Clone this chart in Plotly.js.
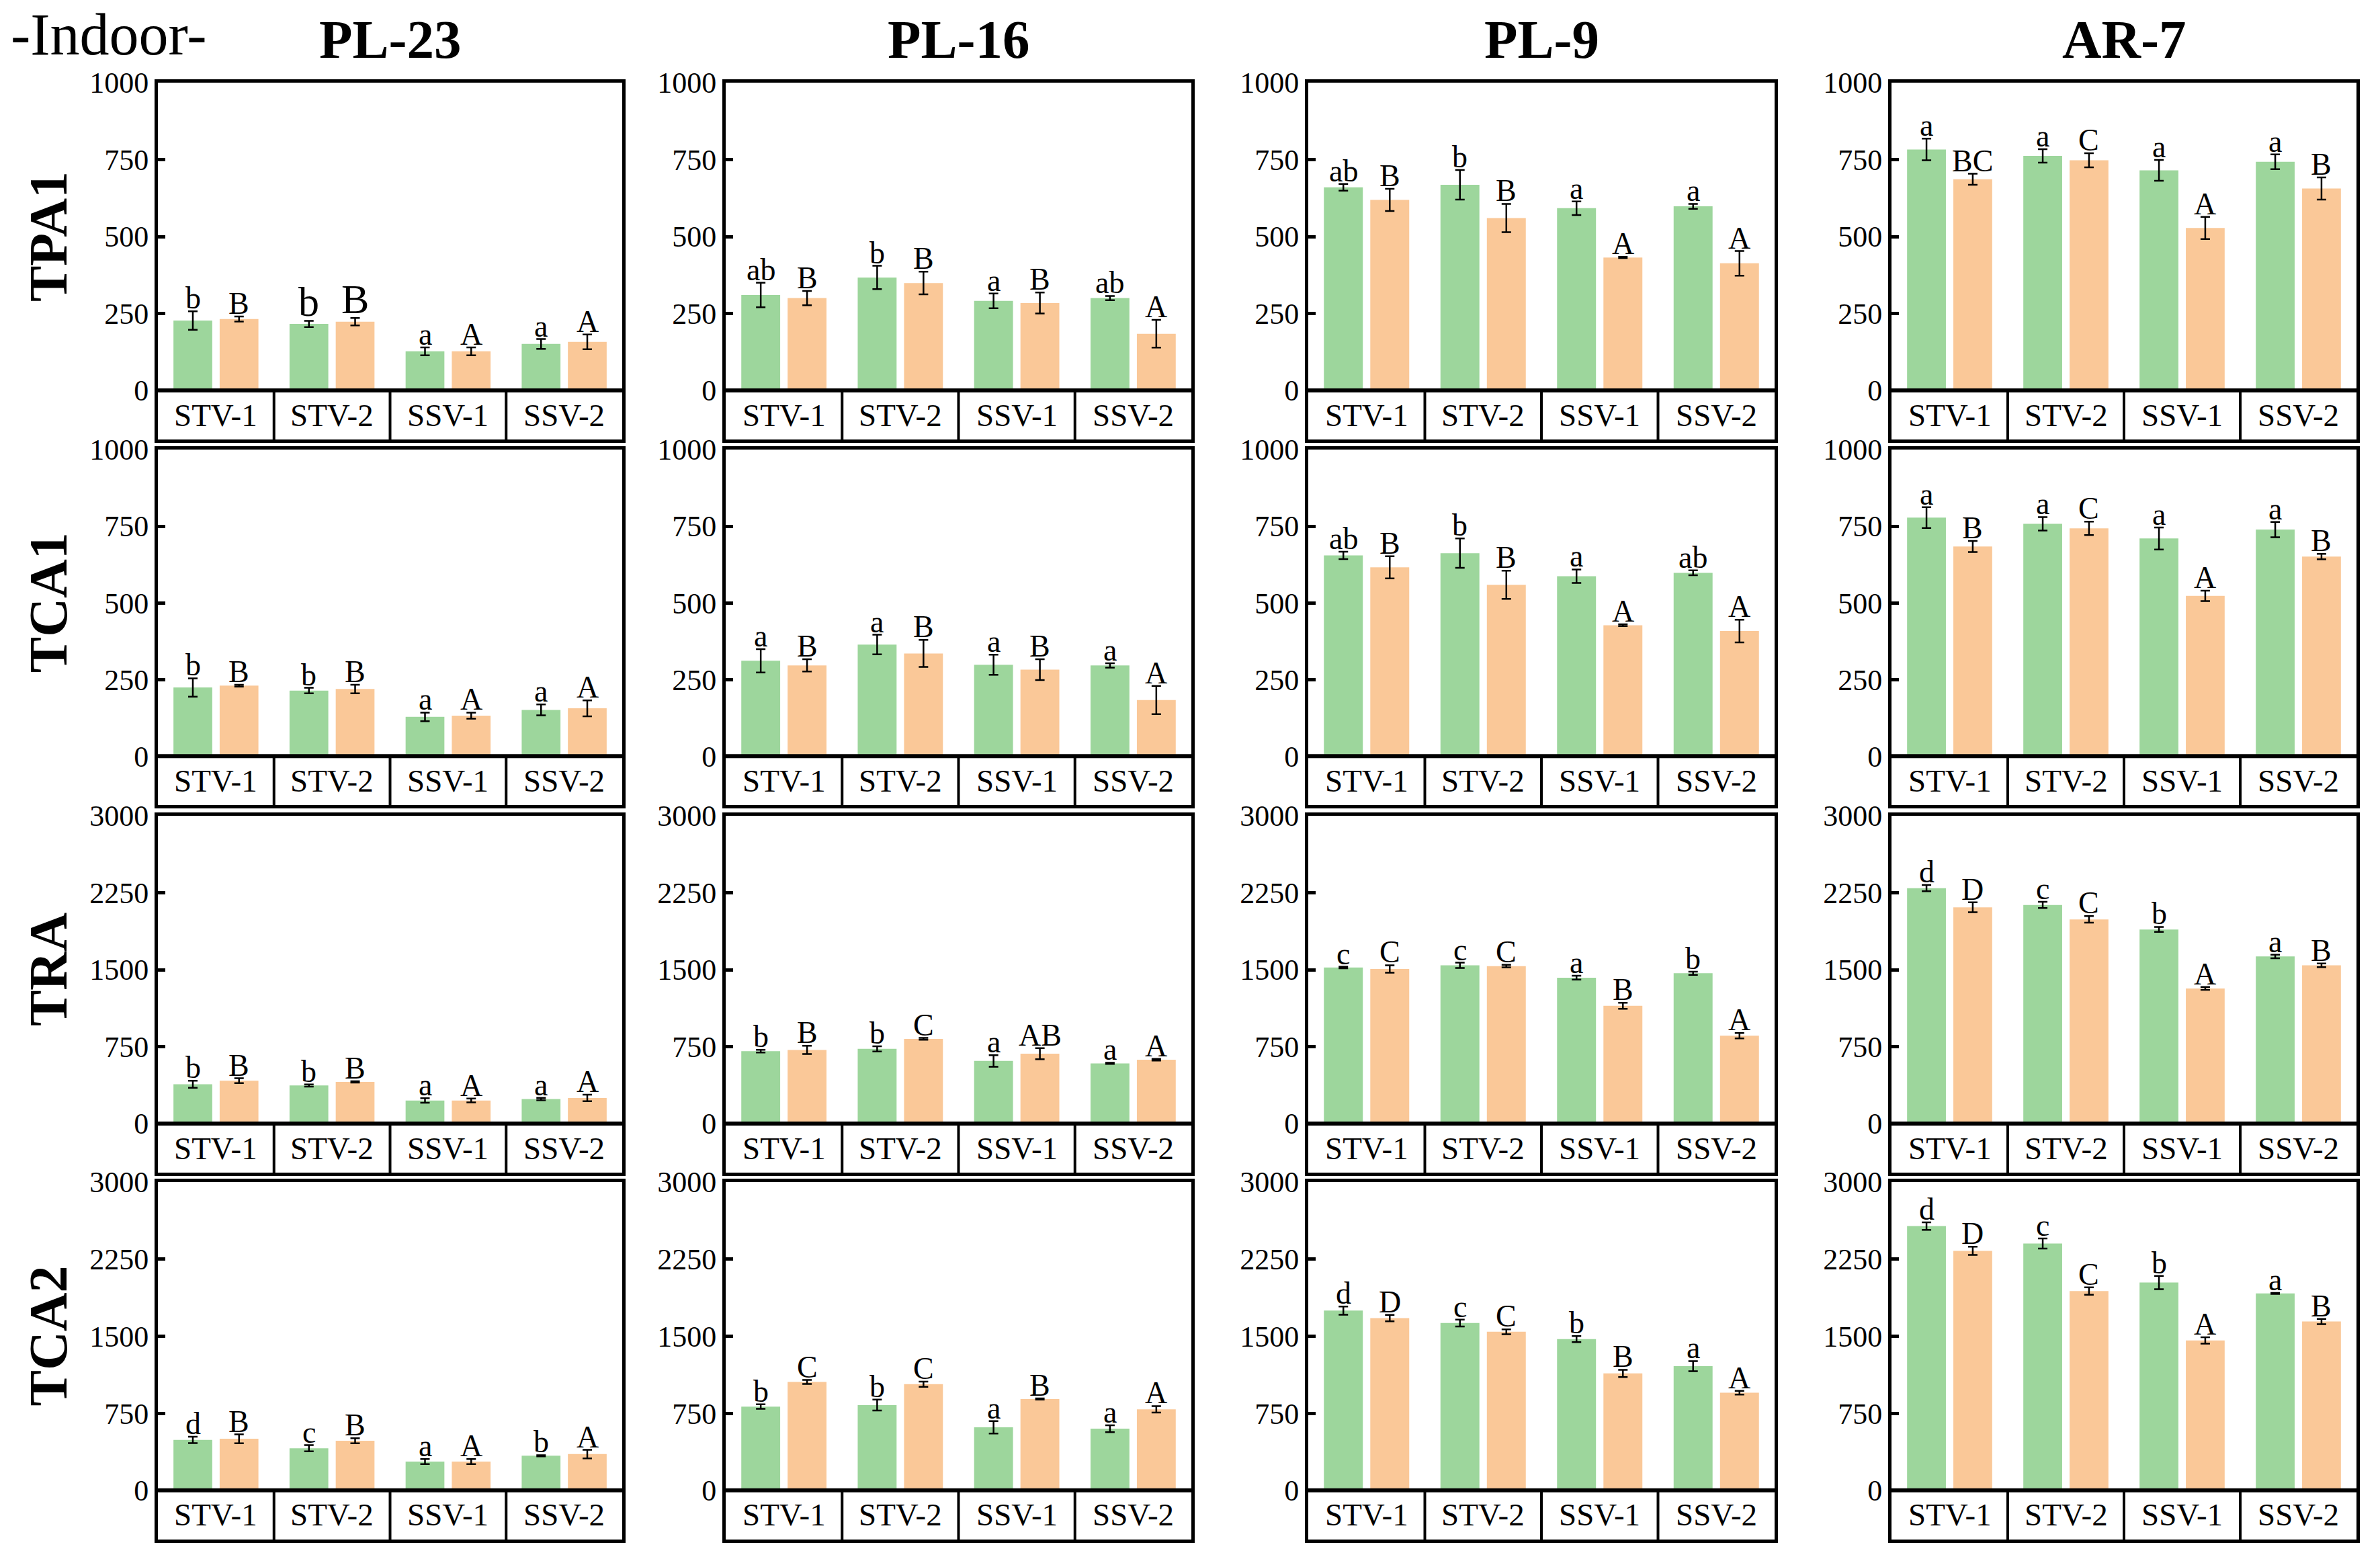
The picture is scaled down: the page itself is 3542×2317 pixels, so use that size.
<!DOCTYPE html>
<html><head><meta charset="utf-8">
<script src="https://cdn.plot.ly/plotly-3.0.1.min.js"></script>
<style>html,body{margin:0;padding:0;background:#fff}#chart{width:3542px;height:2317px}</style>
</head><body><div id="chart"></div>
<script>
// ---------- data ----------
const categories = ['STV-1', 'STV-2', 'SSV-1', 'SSV-2'];
const cultivars = ['PL-23', 'PL-16', 'PL-9', 'AR-7'];
const traits = ['TPA1', 'TCA1', 'TRA', 'TCA2'];
const traitMax = [1000, 1000, 3000, 3000];
const traitTicks = [
  [0, 250, 500, 750, 1000],
  [0, 250, 500, 750, 1000],
  [0, 750, 1500, 2250, 3000],
  [0, 750, 1500, 2250, 3000]
];
const groupLabel = '-Indoor-';

// TPA1
const TPA1_PL23_g = [227, 216, 127, 151], TPA1_PL23_gE = [30, 10, 13, 16];
const TPA1_PL23_o = [232, 223, 127, 158], TPA1_PL23_oE = [8, 12, 13, 24];
const TPA1_PL23_gL = ['b', 'b', 'a', 'a'], TPA1_PL23_oL = ['B', 'B', 'A', 'A'];
const TPA1_PL16_g = [310, 367, 291, 300], TPA1_PL16_gE = [40, 38, 24, 7];
const TPA1_PL16_o = [300, 349, 284, 184], TPA1_PL16_oE = [23, 37, 34, 45];
const TPA1_PL16_gL = ['ab', 'b', 'a', 'ab'], TPA1_PL16_oL = ['B', 'B', 'B', 'A'];
const TPA1_PL9_g = [660, 668, 592, 598], TPA1_PL9_gE = [11, 48, 22, 8];
const TPA1_PL9_o = [619, 560, 432, 413], TPA1_PL9_oE = [36, 46, 2, 40];
const TPA1_PL9_gL = ['ab', 'b', 'a', 'a'], TPA1_PL9_oL = ['B', 'B', 'A', 'A'];
const TPA1_AR7_g = [783, 762, 715, 743], TPA1_AR7_gE = [35, 22, 34, 24];
const TPA1_AR7_o = [686, 748, 528, 656], TPA1_AR7_oE = [18, 23, 36, 36];
const TPA1_AR7_gL = ['a', 'a', 'a', 'a'], TPA1_AR7_oL = ['BC', 'C', 'A', 'B'];

// TCA1
const TCA1_PL23_g = [224, 214, 128, 151], TCA1_PL23_gE = [30, 9, 14, 18];
const TCA1_PL23_o = [230, 219, 132, 156], TCA1_PL23_oE = [3, 14, 10, 26];
const TCA1_PL23_gL = ['b', 'b', 'a', 'a'], TCA1_PL23_oL = ['B', 'B', 'A', 'A'];
const TCA1_PL16_g = [311, 364, 298, 296], TCA1_PL16_gE = [38, 32, 33, 7];
const TCA1_PL16_o = [296, 335, 282, 183], TCA1_PL16_oE = [20, 44, 34, 46];
const TCA1_PL16_gL = ['a', 'a', 'a', 'a'], TCA1_PL16_oL = ['B', 'B', 'B', 'A'];
const TCA1_PL9_g = [655, 662, 587, 598], TCA1_PL9_gE = [12, 48, 22, 8];
const TCA1_PL9_o = [616, 559, 427, 408], TCA1_PL9_oE = [36, 46, 3, 37];
const TCA1_PL9_gL = ['ab', 'b', 'a', 'ab'], TCA1_PL9_oL = ['B', 'B', 'A', 'A'];
const TCA1_AR7_g = [778, 758, 710, 739], TCA1_AR7_gE = [34, 22, 36, 25];
const TCA1_AR7_o = [684, 743, 523, 651], TCA1_AR7_oE = [18, 22, 17, 9];
const TCA1_AR7_gL = ['a', 'a', 'a', 'a'], TCA1_AR7_oL = ['B', 'C', 'A', 'B'];

// TRA
const TRA_PL23_g = [383, 371, 225, 239], TRA_PL23_gE = [35, 10, 22, 12];
const TRA_PL23_o = [418, 406, 225, 249], TRA_PL23_oE = [24, 6, 19, 32];
const TRA_PL23_gL = ['b', 'b', 'a', 'a'], TRA_PL23_oL = ['B', 'B', 'A', 'A'];
const TRA_PL16_g = [706, 728, 610, 587], TRA_PL16_gE = [13, 25, 57, 6];
const TRA_PL16_o = [718, 826, 681, 622], TRA_PL16_oE = [40, 9, 54, 8];
const TRA_PL16_gL = ['b', 'b', 'a', 'a'], TRA_PL16_oL = ['B', 'C', 'AB', 'A'];
const TRA_PL9_g = [1521, 1542, 1422, 1465], TRA_PL9_gE = [8, 26, 19, 16];
const TRA_PL9_o = [1507, 1535, 1148, 857], TRA_PL9_oE = [36, 12, 30, 26];
const TRA_PL9_gL = ['c', 'c', 'a', 'b'], TRA_PL9_oL = ['C', 'C', 'B', 'A'];
const TRA_AR7_g = [2295, 2131, 1892, 1629], TRA_AR7_gE = [30, 30, 24, 17];
const TRA_AR7_o = [2108, 1990, 1317, 1542], TRA_AR7_oE = [48, 32, 14, 18];
const TRA_AR7_gL = ['d', 'c', 'b', 'a'], TRA_AR7_oL = ['D', 'C', 'A', 'B'];

// TCA2
const TCA2_PL23_g = [491, 410, 280, 337], TCA2_PL23_gE = [31, 30, 24, 6];
const TCA2_PL23_o = [502, 483, 280, 353], TCA2_PL23_oE = [43, 25, 24, 41];
const TCA2_PL23_gL = ['d', 'c', 'a', 'b'], TCA2_PL23_oL = ['B', 'B', 'A', 'A'];
const TCA2_PL16_g = [815, 830, 614, 600], TCA2_PL16_gE = [22, 53, 60, 33];
const TCA2_PL16_o = [1055, 1033, 889, 789], TCA2_PL16_oE = [19, 25, 5, 31];
const TCA2_PL16_gL = ['b', 'b', 'a', 'a'], TCA2_PL16_oL = ['C', 'C', 'B', 'A'];
const TCA2_PL9_g = [1749, 1628, 1472, 1209], TCA2_PL9_gE = [40, 33, 30, 49];
const TCA2_PL9_o = [1676, 1543, 1138, 950], TCA2_PL9_oE = [31, 24, 35, 18];
const TCA2_PL9_gL = ['d', 'c', 'b', 'a'], TCA2_PL9_oL = ['D', 'C', 'B', 'A'];
const TCA2_AR7_g = [2571, 2401, 2022, 1917], TCA2_AR7_gE = [37, 49, 65, 5];
const TCA2_AR7_o = [2330, 1939, 1458, 1643], TCA2_AR7_oE = [40, 36, 31, 25];
const TCA2_AR7_gL = ['d', 'c', 'b', 'a'], TCA2_AR7_oL = ['D', 'C', 'A', 'B'];

// table built from the arrays above: [trait][cultivar]
const panels = [
  [[TPA1_PL23_g,TPA1_PL23_gE,TPA1_PL23_o,TPA1_PL23_oE,TPA1_PL23_gL,TPA1_PL23_oL],
   [TPA1_PL16_g,TPA1_PL16_gE,TPA1_PL16_o,TPA1_PL16_oE,TPA1_PL16_gL,TPA1_PL16_oL],
   [TPA1_PL9_g,TPA1_PL9_gE,TPA1_PL9_o,TPA1_PL9_oE,TPA1_PL9_gL,TPA1_PL9_oL],
   [TPA1_AR7_g,TPA1_AR7_gE,TPA1_AR7_o,TPA1_AR7_oE,TPA1_AR7_gL,TPA1_AR7_oL]],
  [[TCA1_PL23_g,TCA1_PL23_gE,TCA1_PL23_o,TCA1_PL23_oE,TCA1_PL23_gL,TCA1_PL23_oL],
   [TCA1_PL16_g,TCA1_PL16_gE,TCA1_PL16_o,TCA1_PL16_oE,TCA1_PL16_gL,TCA1_PL16_oL],
   [TCA1_PL9_g,TCA1_PL9_gE,TCA1_PL9_o,TCA1_PL9_oE,TCA1_PL9_gL,TCA1_PL9_oL],
   [TCA1_AR7_g,TCA1_AR7_gE,TCA1_AR7_o,TCA1_AR7_oE,TCA1_AR7_gL,TCA1_AR7_oL]],
  [[TRA_PL23_g,TRA_PL23_gE,TRA_PL23_o,TRA_PL23_oE,TRA_PL23_gL,TRA_PL23_oL],
   [TRA_PL16_g,TRA_PL16_gE,TRA_PL16_o,TRA_PL16_oE,TRA_PL16_gL,TRA_PL16_oL],
   [TRA_PL9_g,TRA_PL9_gE,TRA_PL9_o,TRA_PL9_oE,TRA_PL9_gL,TRA_PL9_oL],
   [TRA_AR7_g,TRA_AR7_gE,TRA_AR7_o,TRA_AR7_oE,TRA_AR7_gL,TRA_AR7_oL]],
  [[TCA2_PL23_g,TCA2_PL23_gE,TCA2_PL23_o,TCA2_PL23_oE,TCA2_PL23_gL,TCA2_PL23_oL],
   [TCA2_PL16_g,TCA2_PL16_gE,TCA2_PL16_o,TCA2_PL16_oE,TCA2_PL16_gL,TCA2_PL16_oL],
   [TCA2_PL9_g,TCA2_PL9_gE,TCA2_PL9_o,TCA2_PL9_oE,TCA2_PL9_gL,TCA2_PL9_oL],
   [TCA2_AR7_g,TCA2_AR7_gE,TCA2_AR7_o,TCA2_AR7_oE,TCA2_AR7_gL,TCA2_AR7_oL]]
];

// ---------- layout / styling ----------
const W = 3542, H = 2317;
const FONT = 'Liberation Serif, Times New Roman, serif';
const GREEN = '#9dd69c', ORANGE = '#fac898';
const colPx = [[235, 926], [1080, 1773], [1947, 2641], [2815, 3507]];
const rowPx = [[123, 654], [669, 1198], [1214, 1745], [1759, 2291]];
const stripFrac = 73 / 531;
const barW = 0.334, offG = -0.366, offO = 0.032;
const LW = 5;

const data = [], annotations = [], shapes = [];
const layout = {
  width: W, height: H, margin: {l: 0, r: 0, t: 0, b: 0},
  paper_bgcolor: '#fff', plot_bgcolor: 'rgba(0,0,0,0)',
  showlegend: false, barmode: 'overlay',
  font: {family: FONT, color: '#000'}
};

for (let r = 0; r < traits.length; r++) {
  for (let c = 0; c < cultivars.length; c++) {
    const idx = r * cultivars.length + c + 1;
    const xa = 'x' + (idx === 1 ? '' : idx), ya = 'y' + (idx === 1 ? '' : idx);
    const ymax = traitMax[r];
    const ymin = -ymax * stripFrac / (1 - stripFrac);
    const [g, gE, o, oE, gL, oL] = panels[r][c];

    layout['xaxis' + (idx === 1 ? '' : idx)] = {
      domain: [colPx[c][0] / W, colPx[c][1] / W], anchor: ya,
      type: 'category', categoryarray: categories, range: [-0.5, categories.length - 0.5],
      showline: true, mirror: true, linewidth: LW, linecolor: '#000',
      showticklabels: false, ticks: '', showgrid: false, zeroline: false
    };
    layout['yaxis' + (idx === 1 ? '' : idx)] = {
      domain: [1 - rowPx[r][1] / H, 1 - rowPx[r][0] / H], anchor: xa,
      range: [ymin, ymax], tickmode: 'array', tickvals: traitTicks[r],
      ticktext: traitTicks[r].map(String),
      ticks: 'inside', ticklen: 11, tickwidth: LW, tickcolor: '#000',
      showline: true, mirror: true, linewidth: LW, linecolor: '#000',
      showgrid: false, zeroline: false,
      tickfont: {family: FONT, size: 44, color: '#000'}
    };

    data.push({
      type: 'bar', x: categories, y: g, xaxis: xa, yaxis: ya,
      width: barW, offset: offG, marker: {color: GREEN, line: {width: 0}},
      error_y: {type: 'data', array: gE, visible: true, color: '#000', thickness: 2.5, width: 7}
    });
    data.push({
      type: 'bar', x: categories, y: o, xaxis: xa, yaxis: ya,
      width: barW, offset: offO, marker: {color: ORANGE, line: {width: 0}},
      error_y: {type: 'data', array: oE, visible: true, color: '#000', thickness: 2.5, width: 7}
    });

    for (let i = 0; i < categories.length; i++) {
      const big = (r === 0 && c === 0 && i === 1);
      annotations.push({
        xref: xa, yref: ya, x: i + offG + barW / 2, y: g[i] + gE[i],
        text: gL[i], showarrow: false, yanchor: 'bottom', xanchor: 'center', yshift: -8,
        font: {family: FONT, size: big ? 62 : 46, color: '#000'}
      });
      annotations.push({
        xref: xa, yref: ya, x: i + offO + barW / 2, y: o[i] + oE[i],
        text: oL[i], showarrow: false, yanchor: 'bottom', xanchor: 'center', yshift: -8,
        font: {family: FONT, size: big ? 62 : 46, color: '#000'}
      });
      annotations.push({
        xref: xa, yref: ya, x: i, y: ymin / 2,
        text: categories[i], showarrow: false, yanchor: 'middle', xanchor: 'center',
        font: {family: FONT, size: 47, color: '#000'}
      });
      if (i > 0) {
        shapes.push({type: 'line', xref: xa, yref: ya, x0: i - 0.5, x1: i - 0.5, y0: ymin, y1: 0,
          line: {color: '#000', width: LW - 1}});
      }
    }
    shapes.push({type: 'line', xref: xa + ' domain', yref: ya, x0: 0, x1: 1, y0: 0, y1: 0,
      line: {color: '#000', width: LW + 1}});
  }
}

// column titles
const colTitleY = 59;
for (let c = 0; c < cultivars.length; c++) {
  annotations.push({
    xref: 'paper', yref: 'paper', x: (colPx[c][0] + colPx[c][1]) / 2 / W, y: 1 - colTitleY / H,
    text: '<b>' + cultivars[c] + '</b>', showarrow: false, xanchor: 'center', yanchor: 'middle',
    font: {family: FONT, size: 81, color: '#000'}
  });
}
annotations.push({
  xref: 'paper', yref: 'paper', x: 14 / W, y: 1, yshift: -1,
  text: groupLabel, showarrow: false, xanchor: 'left', yanchor: 'top',
  font: {family: FONT, size: 88, color: '#000'}
});
// row titles
for (let r = 0; r < traits.length; r++) {
  const top = rowPx[r][0], zero = rowPx[r][0] + (rowPx[r][1] - rowPx[r][0]) * (1 - stripFrac);
  annotations.push({
    xref: 'paper', yref: 'paper', x: 72 / W, y: 1 - (top + zero) / 2 / H,
    text: '<b>' + traits[r] + '</b>', showarrow: false, textangle: -90,
    xanchor: 'center', yanchor: 'middle',
    font: {family: FONT, size: 80, color: '#000'}
  });
}

layout.annotations = annotations;
layout.shapes = shapes;
Plotly.newPlot('chart', data, layout, {staticPlot: true, displayModeBar: false});
</script>
</body></html>
